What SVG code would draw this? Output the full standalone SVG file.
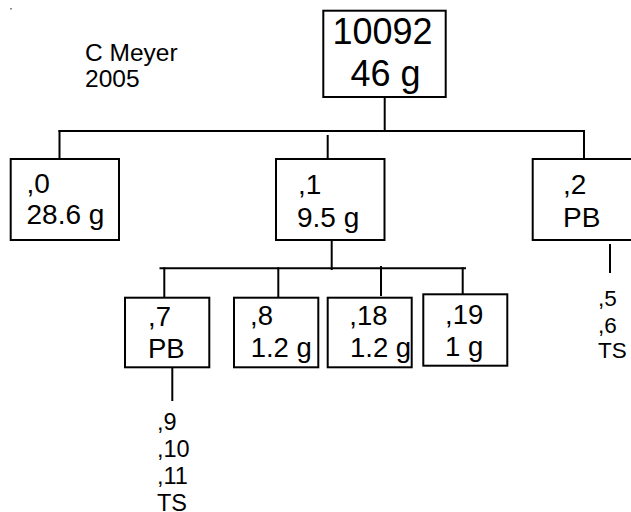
<svg xmlns="http://www.w3.org/2000/svg" width="631" height="512" viewBox="0 0 631 512">
<style>
.box{fill:#fff;stroke:#000;stroke-width:2}
.t{font-family:"Liberation Sans",Arial,sans-serif;fill:#000}
.big{font-size:36px}
.mid{font-size:28px}
.bot{font-size:27.5px}
.sm{font-size:22.5px}
.sm2{font-size:23.5px}
.note{font-size:24.5px}
.c line{stroke:#000;stroke-width:2;stroke-linecap:square}
</style>
<rect x="10" y="8" width="2" height="1.5" fill="#888"/>
<g id="note">
<text class="t note" x="85" y="61">C Meyer</text>
<text class="t note" x="85" y="87">2005</text>
</g>
<g class="c" id="connectors">
<line x1="384.7" y1="97" x2="384.7" y2="131"/>
<line x1="59.5" y1="131" x2="584" y2="131"/>
<line x1="59.5" y1="131" x2="59.5" y2="159"/>
<line x1="327.7" y1="136" x2="327.7" y2="162"/>
<line x1="584" y1="131" x2="584" y2="159"/>
<line x1="331.7" y1="240" x2="331.7" y2="269"/>
<line x1="160.5" y1="268.3" x2="465" y2="268.3"/>
<line x1="164.3" y1="268.3" x2="164.3" y2="297"/>
<line x1="278.3" y1="268.3" x2="278.3" y2="297"/>
<line x1="381" y1="267" x2="381" y2="295"/>
<line x1="462.7" y1="268.3" x2="462.7" y2="294"/>
<line x1="172.3" y1="366" x2="172.3" y2="400"/>
<line x1="610" y1="245" x2="610" y2="272"/>
</g>
<g id="root">
<rect class="box" x="323.3" y="10.7" width="122.4" height="86.3"/>
<text class="t big" x="332.5" y="43.5">10092</text>
<text class="t big" x="350.5" y="86">46 g</text>
</g>
<g id="n0">
<rect class="box" x="10.7" y="159" width="108.3" height="81"/>
<text class="t mid" x="26.5" y="193">,0</text>
<text class="t mid" x="26.5" y="224">28.6 g</text>
</g>
<g id="n1">
<rect class="box" x="276" y="159" width="108.5" height="81"/>
<text class="t mid" x="298" y="194">,1</text>
<text class="t mid" x="297" y="227">9.5 g</text>
</g>
<g id="n2">
<rect class="box" x="532.7" y="159" width="110" height="81"/>
<text class="t mid" x="563" y="194">,2</text>
<text class="t mid" x="563" y="227">PB</text>
</g>
<g id="n2sub">
<text class="t sm" x="598" y="306">,5</text>
<text class="t sm" x="598" y="333">,6</text>
<text class="t sm" x="598" y="358">TS</text>
</g>
<g id="n7">
<rect class="box" x="125" y="297.7" width="84.3" height="69.6"/>
<text class="t bot" x="148" y="326">,7</text>
<text class="t bot" x="148" y="358">PB</text>
</g>
<g id="n7sub">
<text class="t sm2" x="157" y="430">,9</text>
<text class="t sm2" x="157" y="457">,10</text>
<text class="t sm2" x="157" y="484">,11</text>
<text class="t sm2" x="157" y="511">TS</text>
</g>
<g id="n8">
<rect class="box" x="234" y="297.7" width="84.3" height="69.6"/>
<text class="t bot" x="250" y="325">,8</text>
<text class="t bot" x="250.7" y="357">1.2 g</text>
</g>
<g id="n18">
<rect class="box" x="327.7" y="297.7" width="84" height="69.6"/>
<text class="t bot" x="349.3" y="325">,18</text>
<text class="t bot" x="350" y="357">1.2 g</text>
</g>
<g id="n19">
<rect class="box" x="423.3" y="294.3" width="84" height="71.4"/>
<text class="t bot" x="445" y="324">,19</text>
<text class="t bot" x="445" y="356">1 g</text>
</g>
</svg>
